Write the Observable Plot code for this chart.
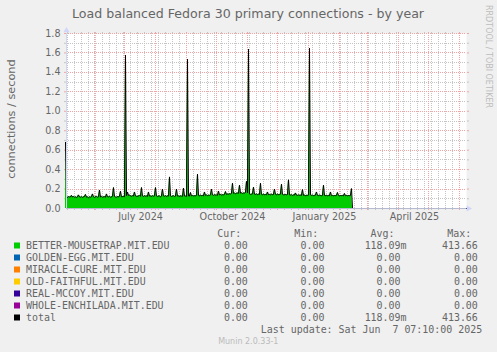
<!DOCTYPE html>
<html><head><meta charset="utf-8">
<script src="https://cdn.jsdelivr.net/npm/d3@7"></script>
<script src="https://cdn.jsdelivr.net/npm/@observablehq/plot@0.6"></script>
<style>
html,body{margin:0;padding:0;background:#f0f0f0;}
#chart{width:497px;height:352px;background:#f0f0f0;overflow:hidden;}
#chart svg{display:block;}
</style></head><body><div id="chart"></div>
<script>
// ---------- texts ----------
const title = "Load balanced Fedora 30 primary connections - by year";
const yLabel = "connections / second";
const credit = "RRDTOOL / TOBI OETIKER";
const version = "Munin 2.0.33-1";
const lastUpdate = "Last update: Sat Jun  7 07:10:00 2025";

// ---------- time range ----------
const xStart = new Date("2024-05-04T00:00:00Z");
const xEnd = new Date("2025-06-08T00:00:00Z");

// ---------- axis ticks ----------
const yMajor = [0, 0.2, 0.4, 0.6, 0.8, 1.0, 1.2, 1.4, 1.6, 1.8];
const yTickLabels = ["0.0", "0.2", "0.4", "0.6", "0.8", "1.0", "1.2", "1.4", "1.6", "1.8"];
const yMinor = [0.1, 0.3, 0.5, 0.7, 0.9, 1.1, 1.3, 1.5, 1.7];
const xLabelDates = ["2024-07-17", "2024-10-17", "2025-01-17", "2025-04-17"].map(s => new Date(s + "T00:00:00Z"));
const xTickLabels = ["July 2024", "October 2024", "January 2025", "April 2025"];

// ---------- daily values (BETTER-MOUSETRAP = total), starting 2024-05-03 ----------
const dataStart = new Date("2024-05-03T00:00:00Z");
const values = [
  0.68, 0.12, 0.115, 0.122, 0.118, 0.12, 0.135,
  0.118, 0.124, 0.116, 0.12, 0.113, 0.12, 0.14,
  0.12, 0.116, 0.122, 0.114, 0.12, 0.124, 0.145,
  0.116, 0.12, 0.11, 0.12, 0.116, 0.122, 0.15,
  0.12, 0.114, 0.12, 0.125, 0.116, 0.12, 0.19,
  0.118, 0.125, 0.116, 0.12, 0.122, 0.116, 0.15,
  0.122, 0.118, 0.125, 0.116, 0.12, 0.126, 0.216,
  0.125, 0.118, 0.116, 0.122, 0.12, 0.126, 0.178,
  0.12, 0.122, 0.125, 0.12, 1.577, 0.13, 0.17,
  0.135, 0.14, 0.128, 0.126, 0.132, 0.128, 0.17,
  0.13, 0.126, 0.124, 0.13, 0.135, 0.126, 0.216,
  0.13, 0.124, 0.132, 0.126, 0.13, 0.124, 0.17,
  0.128, 0.13, 0.124, 0.132, 0.126, 0.13, 0.216,
  0.13, 0.124, 0.128, 0.13, 0.12, 0.128, 0.2,
  0.13, 0.126, 0.132, 0.124, 0.13, 0.128, 0.325,
  0.13, 0.124, 0.128, 0.132, 0.124, 0.128, 0.2,
  0.128, 0.13, 0.124, 0.13, 0.128, 0.124, 0.21,
  0.13, 0.128, 0.124, 1.536, 0.13, 0.128, 0.165,
  0.13, 0.135, 0.128, 0.132, 0.13, 0.135, 0.353,
  0.135, 0.13, 0.138, 0.132, 0.135, 0.13, 0.17,
  0.135, 0.14, 0.132, 0.138, 0.135, 0.14, 0.2,
  0.14, 0.135, 0.142, 0.138, 0.14, 0.135, 0.18,
  0.14, 0.145, 0.138, 0.142, 0.14, 0.145, 0.175,
  0.145, 0.15, 0.146, 0.152, 0.148, 0.155, 0.26,
  0.155, 0.16, 0.152, 0.158, 0.16, 0.155, 0.24,
  0.158, 0.162, 0.155, 0.16, 0.158, 0.165, 0.28,
  0.16, 1.639, 0.15, 0.145, 0.148, 0.15, 0.22,
  0.148, 0.145, 0.15, 0.142, 0.148, 0.145, 0.26,
  0.145, 0.14, 0.148, 0.142, 0.145, 0.14, 0.17,
  0.142, 0.145, 0.14, 0.148, 0.142, 0.145, 0.2,
  0.145, 0.14, 0.148, 0.142, 0.145, 0.148, 0.25,
  0.145, 0.14, 0.142, 0.145, 0.14, 0.145, 0.295,
  0.14, 0.138, 0.142, 0.135, 0.14, 0.138, 0.16,
  0.138, 0.135, 0.14, 0.136, 0.138, 0.135, 0.195,
  0.135, 0.138, 0.132, 0.136, 0.135, 0.138, 1.649,
  0.14, 0.135, 0.138, 0.132, 0.135, 0.138, 0.17,
  0.135, 0.132, 0.138, 0.135, 0.13, 0.135, 0.24,
  0.135, 0.132, 0.136, 0.13, 0.135, 0.132, 0.17,
  0.132, 0.135, 0.13, 0.134, 0.132, 0.135, 0.165,
  0.135, 0.13, 0.134, 0.132, 0.135, 0.13, 0.155,
  0.132, 0.135, 0.13, 0.134, 0.132, 0.135, 0.205
];
// after the data stops, the series reads zero up to the end of the range
const tailDates = ["2025-02-14", "2025-06-08"].map(s => new Date(s + "T00:00:00Z"));
const tailValues = [0, 0];

// ---------- legend ----------
const legendNames = ["BETTER-MOUSETRAP.MIT.EDU", "GOLDEN-EGG.MIT.EDU", "MIRACLE-CURE.MIT.EDU", "OLD-FAITHFUL.MIT.EDU", "REAL-MCCOY.MIT.EDU", "WHOLE-ENCHILADA.MIT.EDU", "total"];
const legendColors = ["#00CC00", "#0066B3", "#FF8000", "#FFCC00", "#330099", "#990099", "#000000"];
const legendHeaders = ["Cur:", "Min:", "Avg:", "Max:"];
const curValues = ["0.00", "0.00", "0.00", "0.00", "0.00", "0.00", "0.00"];
const minValues = ["0.00", "0.00", "0.00", "0.00", "0.00", "0.00", "0.00"];
const avgValues = ["118.09m", "0.00", "0.00", "0.00", "0.00", "0.00", "118.09m"];
const maxValues = ["413.66", "0.00", "0.00", "0.00", "0.00", "0.00", "413.66"];

// ---------- build data ----------
const series = values.map((v, i) => ({date: d3.utcDay.offset(dataStart, i), value: v}))
  .concat(tailDates.map((d, i) => ({date: d, value: tailValues[i]})));
const weekLines = d3.utcSunday.range(xStart, xEnd);
const monthLines = d3.utcMonth.range(xStart, xEnd);
const yMajorGrid = yMajor.filter(v => v > 0);

const gridGray = "#c4c4c4", gridRed = "#f2a4a4", axisColor = "#CFD6F8", xAxisColor = "#b6bad0";
const font = "DejaVu Sans";
const tickSets = (ticks, stroke, isX) => (isX ? ["bottom", "top"] : ["left", "right"]).map(anchor =>
  (isX ? Plot.axisX : Plot.axisY)({ticks, anchor, tickSize: 2, tickFormat: () => "", stroke, label: null}));

const chart = Plot.plot({
  width: 497, height: 352,
  marginLeft: 66, marginRight: 31, marginTop: 33, marginBottom: 144,
  style: {background: "#f0f0f0", fontFamily: font, color: "#666666", overflow: "visible"},
  x: {type: "utc", domain: [xStart, xEnd], axis: null},
  y: {domain: [0, 1.8], axis: null},
  marks: [
    Plot.frame({fill: "white", stroke: "none"}),
    Plot.ruleY(yMinor, {stroke: gridGray, strokeDasharray: "1,1", shapeRendering: "crispEdges"}),
    Plot.ruleX(weekLines, {stroke: gridGray, strokeDasharray: "1,1", shapeRendering: "crispEdges"}),
    ...tickSets(yMinor, gridGray, false),
    ...tickSets(weekLines, gridGray, true),
    Plot.ruleY(yMajorGrid, {stroke: gridRed, strokeDasharray: "1,1", shapeRendering: "crispEdges"}),
    Plot.ruleX(monthLines, {stroke: gridRed, strokeDasharray: "1,1", shapeRendering: "crispEdges"}),
    ...tickSets(yMajorGrid, gridRed, false),
    ...tickSets(monthLines, gridRed, true),
    Plot.areaY(series, {x: "date", y: "value", fill: "#00CC00"}),
    Plot.lineY(series, {x: "date", y: "value", stroke: "#000000", strokeWidth: 1}),
    Plot.ruleY([0], {stroke: xAxisColor, shapeRendering: "crispEdges"}),
    Plot.ruleX([xStart], {y1: 0, y2: 1.8, stroke: axisColor, shapeRendering: "crispEdges"}),
    Plot.dot([0], {x: () => xEnd, y: 0, dx: 2, symbol: "triangle", r: 2.3, rotate: 90, fill: axisColor, stroke: "none"}),
    Plot.dot([0], {x: () => xStart, y: 1.8, dy: -3, symbol: "triangle", r: 2.3, fill: axisColor, stroke: "none"}),
    Plot.axisY({ticks: yMajor, tickSize: 0, tickPadding: 6, label: null, fontSize: 9.6, fill: "#666666",
      tickFormat: d => yTickLabels[yMajor.findIndex(v => Math.abs(v - d) < 1e-9)]}),
    Plot.axisX({ticks: xLabelDates, tickSize: 0, tickPadding: 4.5, label: null, fontSize: 9.6, fill: "#666666",
      tickFormat: d => xTickLabels[xLabelDates.findIndex(t => +t === +d)]})
  ]
});
document.getElementById("chart").appendChild(chart);

// ---------- titles and legend added around the plot ----------
const svg = d3.select(chart);
svg.append("text").attr("x", 248).attr("y", 18.3).attr("text-anchor", "middle")
  .attr("font-family", font).attr("font-size", 12.6).attr("fill", "#666666").text(title);
svg.append("text").attr("transform", "translate(15,119) rotate(-90)").attr("text-anchor", "middle")
  .attr("font-family", font).attr("font-size", 11.3).attr("fill", "#666666").text(yLabel);
svg.append("text").attr("transform", "translate(486,5) rotate(90)").attr("text-anchor", "start")
  .attr("font-family", font).attr("font-size", 8).attr("fill", "#bdbdbd").text(credit);

const mono = "DejaVu Sans Mono", monoSize = 9.95, charW = monoSize * 1233 / 2048;
const lg = svg.append("g").attr("font-family", mono).attr("font-size", monoSize)
  .attr("fill", "#666666").attr("text-anchor", "start");
const headerY = 237.3, rowY0 = 249, rowStep = 12;
const headerX = [217.2, 294.2, 370.5, 447.2];
const colEdge = [247.85, 324.55, 400.55, 477.85];
legendHeaders.forEach((h, j) => lg.append("text").attr("x", headerX[j]).attr("y", headerY).attr("text-anchor", "start").text(h));
const cols = [curValues, minValues, avgValues, maxValues];
legendNames.forEach((name, i) => {
  const y = rowY0 + rowStep * i;
  lg.append("rect").attr("x", 14).attr("y", y - 6.5).attr("width", 6).attr("height", 6).attr("fill", legendColors[i]);
  lg.append("text").attr("x", 26).attr("y", y).attr("text-anchor", "start").text(name);
  cols.forEach((col, j) => {
    const s = col[i];
    const suffix = /[a-zA-Z]$/.test(s);
    lg.append("text").attr("x", colEdge[j] + (suffix ? charW : 0)).attr("y", y).attr("text-anchor", "end").text(s);
  });
});
lg.append("text").attr("x", 260.8).attr("y", 333.3).attr("text-anchor", "start")
  .attr("xml:space", "preserve").style("white-space", "pre").text(lastUpdate);
svg.append("text").attr("x", 248.3).attr("y", 344).attr("text-anchor", "middle")
  .attr("font-family", font).attr("font-size", 8).attr("fill", "#bbbbbb").text(version);
</script></body></html>
